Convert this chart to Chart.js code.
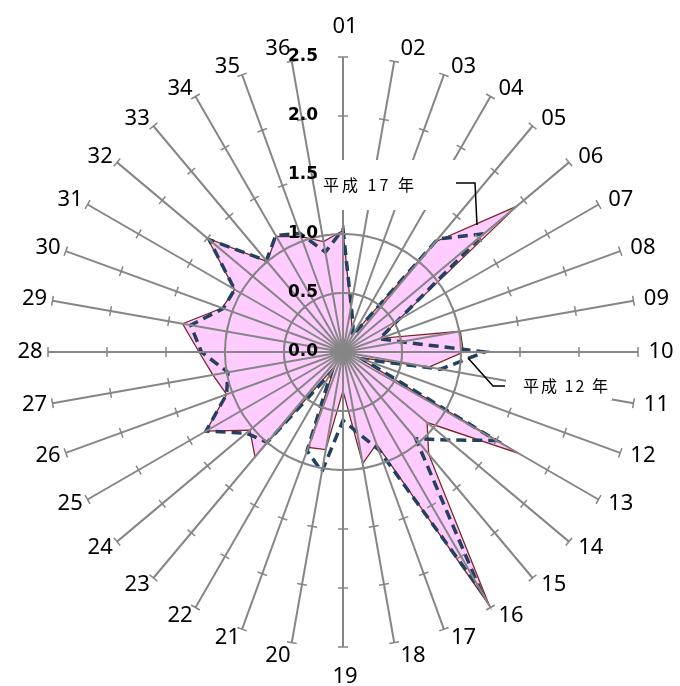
<!DOCTYPE html>
<html>
<head>
<meta charset="utf-8">
<script src="https://cdn.jsdelivr.net/npm/chart.js@4"></script>
<style>
  body { margin: 0; background: #fff; }
  #wrap { width: 680px; height: 686px; }
</style>
</head>
<body>
<div id="wrap"><canvas id="radar"></canvas></div>
<script>
// spokes 01..36
const categories = ['01','02','03','04','05','06','07','08','09','10','11','12',
  '13','14','15','16','17','18','19','20','21','22','23','24',
  '25','26','27','28','29','30','31','32','33','34','35','36'];

// 平成17年 (filled)
const valuesH17 = [1.03, 0.38, 0.22, 0.17, 1.22, 1.92, 0.54, 0.34, 1.01, 1.02, 0.74, 0.13,
  1.72, 0.93, 1.13, 2.48, 0.83, 0.96, 0.33, 0.84, 0.86, 0.14, 1.16, 1.03,
  1.34, 1.05, 1.12, 1.22, 1.38, 1.09, 1.06, 1.50, 1.00, 1.13, 1.04, 0.95];

// 平成12年 (dashed)
const valuesH12 = [1.04, 0.40, 0.25, 0.16, 1.25, 1.56, 0.54, 0.33, 0.50, 1.20, 0.84, 0.18,
  1.50, 1.16, 0.96, 2.33, 0.88, 0.69, 0.58, 1.03, 0.89, 0.20, 1.00, 1.07,
  1.34, 1.05, 0.99, 1.20, 1.31, 1.08, 1.06, 1.48, 1.01, 1.14, 1.07, 0.86];

const tickValues = [0, 0.5, 1.0, 1.5, 2.0, 2.5];
const tickLabels = ['0.0', '0.5', '1.0', '1.5', '2.0', '2.5'];
const circleValues = [0.5, 1.0];   // only these rings are drawn

const GRAY = '#868686';

// spoke tick marks, axis labels and data labels
const decorations = {
  id: 'decorations',
  afterDraw(chart) {
    const ctx = chart.ctx;
    const r = chart.scales.r;
    const cx = r.xCenter, cy = r.yCenter;

    ctx.save();
    // small cross ticks on every spoke
    ctx.strokeStyle = GRAY;
    ctx.lineWidth = 1.5;
    categories.forEach((c, i) => {
      tickValues.forEach(v => {
        if (v === 0) return;
        const p = r.getPointPosition(i, r.getDistanceFromCenterForValue(v));
        const nx = -Math.sin(p.angle), ny = Math.cos(p.angle);
        ctx.beginPath();
        ctx.moveTo(p.x - nx * 5, p.y - ny * 5);
        ctx.lineTo(p.x + nx * 5, p.y + ny * 5);
        ctx.stroke();
      });
    });

    // category labels
    ctx.fillStyle = '#000';
    ctx.font = '22px "Noto Sans"';
    ctx.textAlign = 'center';
    ctx.textBaseline = 'middle';
    categories.forEach((lab, i) => {
      const a = r.getIndexAngle(i);
      const s = Math.sin(a), c = Math.cos(a);
      const p = r.getPointPosition(i, r.drawingArea + 5);
      let x = p.x, y = p.y;
      if (Math.abs(s) < 0.01) {
        x += 2;
        y -= c * 25;
      } else {
        x += s > 0 ? 18 : -13;
        y -= c * 4;
        if (Math.abs(c) > 0.95) y -= c * 4;
      }
      ctx.fillText(lab, x, y);
    });

    // data labels with leader lines
    ctx.fillStyle = '#fff';
    ctx.fillRect(cx - 24, cy - 192, 136, 50);
    ctx.fillRect(cx + 163, cy + 20, 106, 28);

    ctx.strokeStyle = '#000';
    ctx.lineWidth = 1.5;
    ctx.beginPath();
    ctx.moveTo(cx + 113, cy - 169);
    ctx.lineTo(cx + 132, cy - 169);
    ctx.lineTo(cx + 134, cy - 127);
    ctx.stroke();
    ctx.beginPath();
    ctx.moveTo(cx + 125, cy + 6);
    ctx.lineTo(cx + 150, cy + 34);
    ctx.lineTo(cx + 162, cy + 34);
    ctx.stroke();

    ctx.fillStyle = '#000';
    ctx.font = '16px "Noto Sans CJK JP"';
    ctx.textAlign = 'left';
    ctx.letterSpacing = '3px';
    ctx.fillText('平成 17 年', cx - 20, cy - 167);
    ctx.letterSpacing = '2px';
    ctx.fillText('平成 12 年', cx + 180, cy + 34);
    ctx.letterSpacing = '0px';

    // radial axis labels
    ctx.font = 'bold 17px "DejaVu Sans"';
    ctx.textAlign = 'right';
    tickValues.forEach((v, k) => {
      ctx.fillText(tickLabels[k], cx - 25, cy - r.getDistanceFromCenterForValue(v));
    });
    ctx.restore();
  }
};

new Chart(document.getElementById('radar'), {
  type: 'radar',
  data: {
    labels: categories,
    datasets: [
      {
        label: '平成12年',
        data: valuesH12,
        borderColor: '#23405F',
        borderWidth: 3.5,
        borderDash: [10, 6],
        fill: false,
        pointRadius: 0,
        order: 0
      },
      {
        label: '平成17年',
        data: valuesH17,
        borderColor: '#7F2525',
        backgroundColor: '#FFCCFF',
        borderWidth: 1.3,
        fill: true,
        pointRadius: 0,
        order: 1
      }
    ]
  },
  options: {
    responsive: true,
    maintainAspectRatio: false,
    animation: false,
    layout: { padding: { left: 48, right: 42, top: 57, bottom: 39 } },
    plugins: {
      legend: { display: false },
      tooltip: { enabled: false }
    },
    scales: {
      r: {
        min: 0,
        max: 2.5,
        ticks: { display: false, stepSize: 0.5 },
        grid: {
          z: 1,
          circular: true,
          lineWidth: 2,
          color: ctx => (ctx.tick && circleValues.includes(ctx.tick.value)) ? GRAY : 'rgba(0,0,0,0)'
        },
        angleLines: { color: GRAY, lineWidth: 2 },
        pointLabels: { display: false }
      }
    }
  },
  plugins: [decorations]
});
</script>
</body>
</html>
